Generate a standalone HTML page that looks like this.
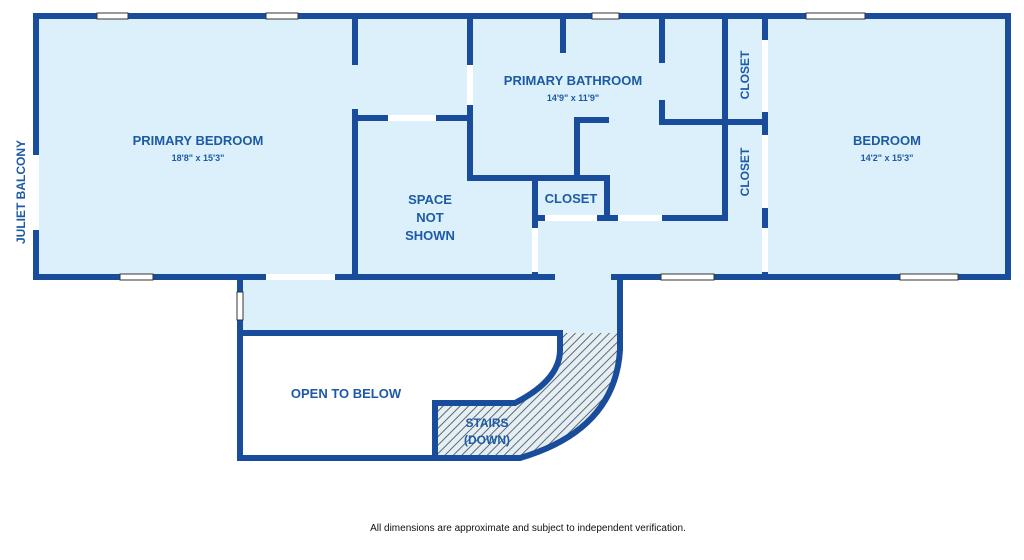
<!DOCTYPE html>
<html><head><style>
body{margin:0;background:#fff;width:1024px;height:560px;overflow:hidden}
svg{display:block}
text{font-family:"Liberation Sans",sans-serif;font-weight:bold;fill:#1d5aa6}
</style></head><body>
<svg width="1024" height="560" viewBox="0 0 1024 560">
<defs><pattern id="h" width="6" height="6" patternUnits="userSpaceOnUse" patternTransform="rotate(45)"><rect width="6" height="6" fill="#e3eef5"/><line x1="0" y1="0" x2="0" y2="6" stroke="#444" stroke-width="1.6"/></pattern></defs>
<rect x="36" y="16" width="972" height="261" fill="#dcf0fb"/>
<rect x="240" y="277" width="380" height="56" fill="#dcf0fb"/>
<path d="M560 333 L620 333 L620 350 Q615 430 520 458 L435 458 L435 403 L515 403 Q560 380 560 350 Z" fill="url(#h)"/>
<g stroke="#1a4c9c" stroke-width="6" fill="none" stroke-linecap="square">
<path d="M36 16 H1008 V277 H614 M552 277 H36 V16"/>
<path d="M355 16 V62 M355 112 V277 M355 118 H470 M470 16 V178 H607 V218 M535 178 V277 M535 218 H722 M563 16 V50 M662 16 V60 M577 178 V120 H606 M662 103 V122 H765 M725 16 V218 M765 16 V277"/>
<path d="M240 277 V458 H520 Q615 430 620 350 V277 M240 333 H560 V350 Q560 380 515 403 H435 V458"/>
</g>
<g fill="#fff" stroke="#333" stroke-width="1">
<rect x="97" y="13" width="31" height="6"/><rect x="266" y="13" width="32" height="6"/><rect x="592" y="13" width="27" height="6"/><rect x="806" y="13" width="59" height="6"/>
<rect x="120" y="274" width="33" height="6"/><rect x="661" y="274" width="53" height="6"/><rect x="900" y="274" width="58" height="6"/>
<rect x="237" y="292" width="6" height="28"/>
</g>
<g fill="#fff">
<rect x="33" y="155" width="6" height="75"/><rect x="266" y="274" width="69" height="6"/><rect x="388" y="115" width="48" height="6"/>
<rect x="467" y="65" width="6" height="40"/><rect x="532" y="228" width="6" height="44"/>
<rect x="545" y="215" width="52" height="6"/><rect x="618" y="215" width="44" height="6"/>
<rect x="762" y="40" width="6" height="72"/><rect x="762" y="135" width="6" height="73"/><rect x="762" y="228" width="6" height="44"/>
</g>
<text x="198" y="145" font-size="13" text-anchor="middle">PRIMARY BEDROOM</text>
<text x="198" y="161" font-size="9" text-anchor="middle">18'8" x 15'3"</text>
<text x="573" y="85" font-size="13" text-anchor="middle">PRIMARY BATHROOM</text>
<text x="573" y="101" font-size="9" text-anchor="middle">14'9" x 11'9"</text>
<text x="887" y="145" font-size="13" text-anchor="middle">BEDROOM</text>
<text x="887" y="161" font-size="9" text-anchor="middle">14'2" x 15'3"</text>
<text x="430" y="204" font-size="13" text-anchor="middle">SPACE</text>
<text x="430" y="222" font-size="13" text-anchor="middle">NOT</text>
<text x="430" y="240" font-size="13" text-anchor="middle">SHOWN</text>
<text x="571" y="203" font-size="13" text-anchor="middle">CLOSET</text>
<text transform="translate(749,75) rotate(-90)" font-size="12" text-anchor="middle">CLOSET</text>
<text transform="translate(749,172) rotate(-90)" font-size="12" text-anchor="middle">CLOSET</text>
<text transform="translate(25,192) rotate(-90)" font-size="12" text-anchor="middle">JULIET BALCONY</text>
<text x="346" y="398" font-size="13" text-anchor="middle">OPEN TO BELOW</text>
<text x="487" y="427" font-size="12" text-anchor="middle">STAIRS</text>
<text x="487" y="444" font-size="12" text-anchor="middle">(DOWN)</text>
<text x="528" y="531" font-size="10" text-anchor="middle" style="fill:#111;font-weight:normal">All dimensions are approximate and subject to independent verification.</text>
</svg>
</body></html>
